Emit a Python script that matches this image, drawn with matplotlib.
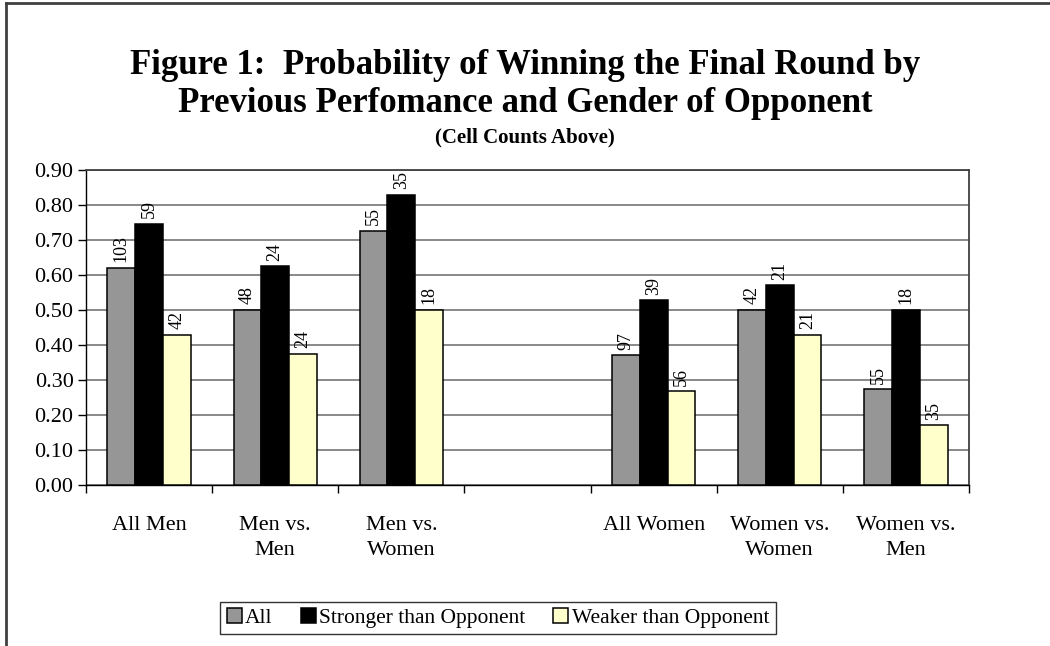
import numpy as np
import matplotlib
matplotlib.use("Agg")
import matplotlib.pyplot as plt
from matplotlib.lines import Line2D

plt.rcParams['font.family'] = ['Liberation Serif', 'DejaVu Serif']

# chart data (empty slot between the men and women groups)
categories = ["All Men", "Men vs.\nMen", "Men vs.\nWomen", "",
              "All Women", "Women vs.\nWomen", "Women vs.\nMen"]
series_names = ["All", "Stronger than Opponent", "Weaker than Opponent"]
all_vals = [0.621, 0.50, 0.727, np.nan, 0.371, 0.50, 0.273]
stronger_vals = [0.746, 0.625, 0.829, np.nan, 0.528, 0.571, 0.50]
weaker_vals = [0.429, 0.375, 0.50, np.nan, 0.268, 0.429, 0.171]
all_counts = [103, 48, 55, None, 97, 42, 55]
stronger_counts = [59, 24, 35, None, 39, 21, 18]
weaker_counts = [42, 24, 18, None, 56, 21, 35]
yticks = [0.0, 0.1, 0.2, 0.3, 0.4, 0.5, 0.6, 0.7, 0.8, 0.9]

colors = ["#969696", "#000000", "#FFFFCC"]

fig = plt.figure(figsize=(10.5, 6.46), dpi=100)
ax = fig.add_axes([86 / 1050, 1 - 485 / 646, (969 - 86) / 1050, (485 - 170) / 646])

x = np.arange(len(categories)) + 0.5
w = 0.22
series = [all_vals, stronger_vals, weaker_vals]
counts = [all_counts, stronger_counts, weaker_counts]
for k, (vals, cnts) in enumerate(zip(series, counts)):
    pos = x + (k - 1) * w
    ax.bar(pos, vals, width=w, color=colors[k], edgecolor="black",
           linewidth=1.1, label=series_names[k], zorder=3)
    for px, v, c in zip(pos, vals, cnts):
        if c is None:
            continue
        ax.annotate(str(c), (px, v), xytext=(0, 4), textcoords="offset points",
                    rotation=90, ha="center", va="bottom", fontsize=13)

ax.set_xlim(0, len(categories))
ax.set_ylim(0, 0.9)
ax.set_yticks(yticks)
ax.set_yticklabels([f"{t:.2f}" for t in yticks], fontsize=16)
ax.tick_params(axis="y", direction="out", length=6, width=1, pad=3)

ax.set_xticks(np.arange(len(categories) + 1))
ax.set_xticklabels([])
ax.tick_params(axis="x", which="major", direction="out", length=6, width=1)
ax.set_xticks(x, minor=True)
ax.set_xticklabels(categories, minor=True, fontsize=16, linespacing=1.45)
ax.tick_params(axis="x", which="minor", length=0, pad=22)

ax.yaxis.grid(True, color="#808080", linewidth=1.3, zorder=0)
ax.set_axisbelow(True)
for s in ["left", "bottom"]:
    ax.spines[s].set_color("black")
    ax.spines[s].set_linewidth(1)
for s in ["top", "right"]:
    ax.spines[s].set_color("#404040")
    ax.spines[s].set_linewidth(1.3)

fig.text(0.5, 1 - 65 / 646, "Figure 1:  Probability of Winning the Final Round by",
         ha="center", va="center", fontsize=25, fontweight="bold")
fig.text(0.5, 1 - 103 / 646, "Previous Perfomance and Gender of Opponent",
         ha="center", va="center", fontsize=25, fontweight="bold")
fig.text(0.5, 1 - 137 / 646, "(Cell Counts Above)",
         ha="center", va="center", fontsize=15, fontweight="bold")

leg = fig.legend(loc="center", bbox_to_anchor=(498 / 1050, 1 - 618 / 646),
                 ncol=3, fontsize=15.5, frameon=True, fancybox=False,
                 edgecolor="black", handlelength=0.7, handleheight=0.7,
                 handletextpad=0.15, columnspacing=1.3, borderpad=0.3)
leg.get_frame().set_linewidth(1)

# outer chart-area border (top and left edges visible)
fig.add_artist(Line2D([6 / 1050, 1], [1 - 3 / 646, 1 - 3 / 646],
                      transform=fig.transFigure, color="#404040", linewidth=2))
fig.add_artist(Line2D([6 / 1050, 6 / 1050], [0, 1 - 3 / 646],
                      transform=fig.transFigure, color="#404040", linewidth=2))

fig.savefig("out.png", dpi=100)
